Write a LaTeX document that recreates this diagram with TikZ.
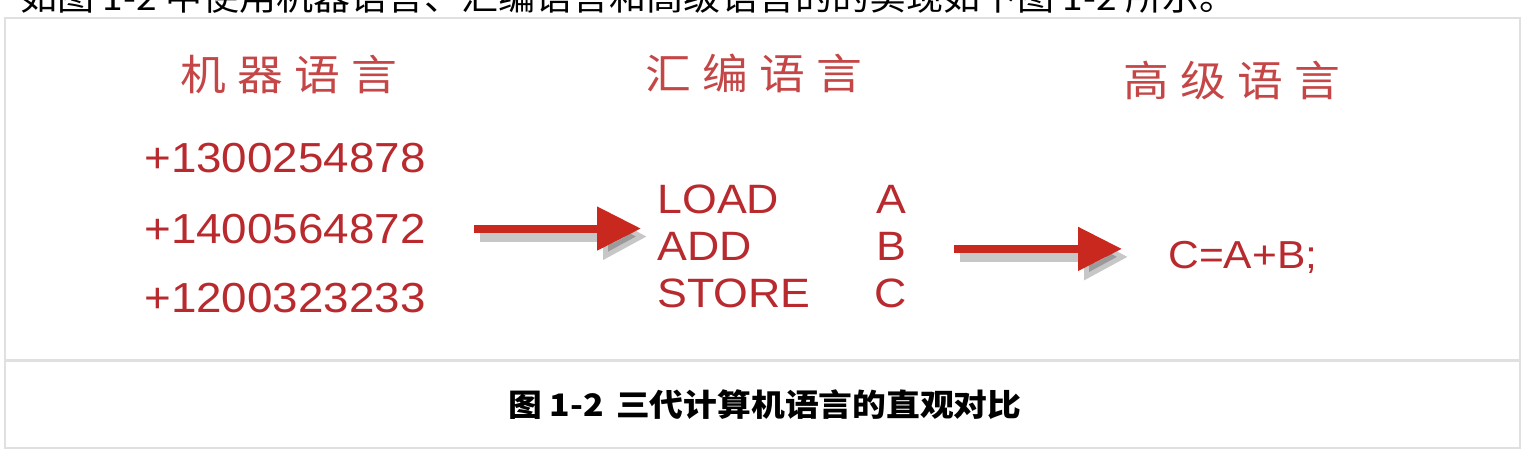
\documentclass[tikz,border=0pt]{standalone}
\usepackage{fontspec}
\usepackage{tikz}
\usetikzlibrary{arrows.meta,positioning,calc}
\newfontfamily\codefont{Liberation Sans}[FakeStretch=1.09]
\newfontfamily\cjkfont{Noto Sans CJK SC}[FakeStretch=1.09]
\definecolor{headred}{HTML}{C44646}
\definecolor{codered}{HTML}{B82A2E}
\definecolor{arrowred}{HTML}{C9281F}
\definecolor{framegray}{HTML}{E0E0E0}
\newcommand{\hgap}{\hspace{5.5pt}}

\begin{document}
\begin{tikzpicture}[x=0.5pt,y=-0.5pt,
            head/.style={font=\cjkfont\fontsize{21}{21}\selectfont,text=headred,inner sep=0pt},
            code/.style={font=\codefont\fontsize{21}{21}\selectfont,text=codered,inner sep=0pt,anchor=base},
            asm/.style={code,font=\codefont\fontsize{20.5}{20.5}\selectfont},
            bigarrow/.style={draw=arrowred,line width=4pt,-{Triangle[length=22pt,width=21pt]}},
            arrowshade/.style={draw=black,opacity=.22,line width=5pt,-{Triangle[length=22pt,width=22pt]},
                               transform canvas={xshift=3pt,yshift=-4pt}}]
  \useasboundingbox (0,0) rectangle (1524,450);
  \fill[white] (0,0) rectangle (1524,450);
  % line of text cut off above the figure
  \begin{scope}
    \clip (0,0) rectangle (1524,17);
    \node[font=\cjkfont\fontsize{17}{17}\selectfont,inner sep=0pt,anchor=base west] (lead) at (20,10)
      {如图 1-2 中使用机器语言、汇编语言和高级语言的的实现如下图 1-2 所示。};
  \end{scope}
  % frame
  \draw[framegray,line width=1pt] (5,18) rectangle (1520,448);
  \draw[framegray,line width=1.5pt] (5,360) -- (1520,360);
  % headings
  \node[head] (mach) at (289,74) {机\hgap 器\hgap 语\hgap 言};
  \node[head] (asmh) at (754,73) {汇\hgap 编\hgap 语\hgap 言};
  \node[head] (high) at (1232,81) {高\hgap 级\hgap 语\hgap 言};
  % machine code
  \node[code] (m1) at (285,172) {+1300254878};
  \node[code] (m2) at (285,243) {+1400564872};
  \node[code] (m3) at (285,312) {+1200323233};
  % assembly
  \node[asm,anchor=base west] (load) at (657,213) {LOAD};
  \node[asm,anchor=base west] (add) at (657,260) {ADD};
  \node[asm,anchor=base west] (store) at (657,307) {STORE};
  \node[asm] (a) at (891,213) {A};
  \node[asm] (b) at (891,260) {B};
  \node[asm] (c) at (891,307) {C};
  % high level
  \node[code,anchor=base west,font=\codefont\fontsize{19.5}{19.5}\selectfont] (cab) at (1168,268) {C=A+B;};
  % arrows
  \draw[arrowshade,shorten <=24pt,shorten >=8pt] (m2.east) -- (m2.east -| load.west);
  \draw[bigarrow,shorten <=24pt,shorten >=8pt] (m2.east) -- (m2.east -| load.west);
  \draw[arrowshade,shorten <=24pt,shorten >=23pt] ([yshift=-1.5pt]b.east) -- ([yshift=-1.5pt]b.east -| cab.west);
  \draw[bigarrow,shorten <=24pt,shorten >=23pt] ([yshift=-1.5pt]b.east) -- ([yshift=-1.5pt]b.east -| cab.west);
  % caption
  \node[font=\cjkfont\bfseries\fontsize{15.5}{15.5}\selectfont,inner sep=0pt] (cap) at (765,405)
    {图 1-2\hspace{6pt}三代计算机语言的直观对比};
\end{tikzpicture}
\end{document}
